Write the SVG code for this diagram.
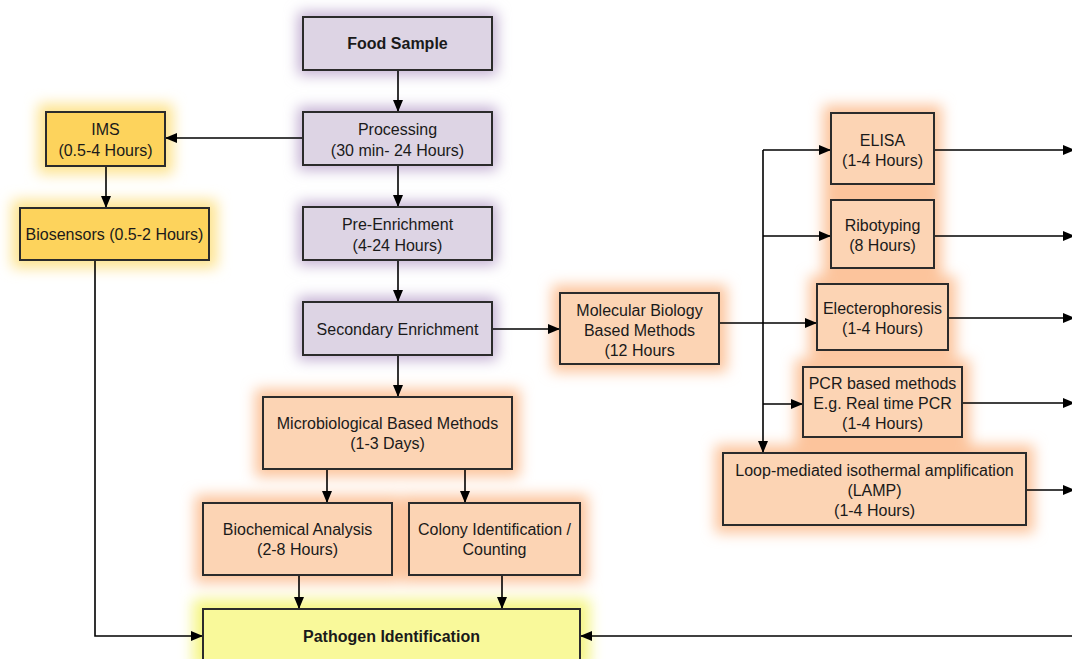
<svg xmlns="http://www.w3.org/2000/svg" width="1072" height="659" viewBox="0 0 1072 659">
<defs>
<filter id="glow" x="-30%" y="-40%" width="160%" height="180%"><feGaussianBlur stdDeviation="7"/></filter>
<marker id="ah" markerWidth="12" markerHeight="10" refX="11" refY="5" orient="auto" markerUnits="userSpaceOnUse"><path d="M0,0 L12,5 L0,10 Z" fill="#000"/></marker>
<style>
.box{stroke:#2b2b2b;stroke-width:2}
.lav{fill:#ddd4e4}
.pch{fill:#fcd4b4}
.gld{fill:#fdd35c}
.yel{fill:#f9f99a}
.gl-lav{fill:#c2afd2}
.gl-pch{fill:#fcc49c}
.gl-gld{fill:#fde38e}
.gl-yel{fill:#f5f585}
text{font-family:"Liberation Sans",Arial,sans-serif;font-size:16px;fill:#1a1a1a;text-anchor:middle}
.b{font-weight:bold}
.c{fill:none;stroke:#000;stroke-width:1.6}
</style>
</defs>
<rect width="1072" height="659" fill="#fff"/>
<g id="glows" filter="url(#glow)">
<rect class="gl-lav" x="298" y="12" width="199" height="63"/>
<rect class="gl-lav" x="298" y="107" width="199" height="63"/>
<rect class="gl-lav" x="298" y="202" width="199" height="63"/>
<rect class="gl-lav" x="298" y="297" width="199" height="63"/>
<rect class="gl-gld" x="38" y="104" width="135" height="70"/>
<rect class="gl-gld" x="12" y="200" width="205" height="68"/>
<rect class="gl-pch" x="552" y="285" width="175" height="87"/>
<rect class="gl-pch" x="823" y="105" width="119" height="87"/>
<rect class="gl-pch" x="823" y="192" width="119" height="84"/>
<rect class="gl-pch" x="809" y="276" width="147" height="82"/>
<rect class="gl-pch" x="795" y="359" width="175" height="86"/>
<rect class="gl-pch" x="715" y="445" width="319" height="88"/>
<rect class="gl-pch" x="255" y="389" width="265" height="88"/>
<rect class="gl-pch" x="195" y="495" width="205" height="88"/>
<rect class="gl-pch" x="401" y="495" width="187" height="88"/>
<rect class="gl-yel" x="193" y="599" width="397" height="70"/>
</g>
<g id="connectors">
<path class="c" d="M398,70 V111" marker-end="url(#ah)"/>
<path class="c" d="M303,138 H166" marker-end="url(#ah)"/>
<path class="c" d="M106,166 V207" marker-end="url(#ah)"/>
<path class="c" d="M398,165 V206" marker-end="url(#ah)"/>
<path class="c" d="M398,260 V301" marker-end="url(#ah)"/>
<path class="c" d="M398,355 V396" marker-end="url(#ah)"/>
<path class="c" d="M492,329 H559" marker-end="url(#ah)"/>
<path class="c" d="M719,323 H816" marker-end="url(#ah)"/>
<path class="c" d="M763,150 V452" marker-end="url(#ah)"/>
<path class="c" d="M763,150 H830" marker-end="url(#ah)"/>
<path class="c" d="M763,236 H830" marker-end="url(#ah)"/>
<path class="c" d="M763,404 H802" marker-end="url(#ah)"/>
<path class="c" d="M934,150 H1074" marker-end="url(#ah)"/>
<path class="c" d="M934,236 H1074" marker-end="url(#ah)"/>
<path class="c" d="M948,318 H1074" marker-end="url(#ah)"/>
<path class="c" d="M962,403 H1074" marker-end="url(#ah)"/>
<path class="c" d="M1026,490 H1074" marker-end="url(#ah)"/>
<path class="c" d="M1072,636 H581" marker-end="url(#ah)"/>
<path class="c" d="M95,260 V636 H202" marker-end="url(#ah)"/>
<path class="c" d="M327,469 V502" marker-end="url(#ah)"/>
<path class="c" d="M465,469 V502" marker-end="url(#ah)"/>
<path class="c" d="M299,575 V608" marker-end="url(#ah)"/>
<path class="c" d="M502,575 V608" marker-end="url(#ah)"/>
</g>
<g id="food"><rect class="box lav" x="303" y="17" width="189" height="53"/><text class="b" x="397.5" y="49">Food Sample</text></g>
<g id="processing"><rect class="box lav" x="303" y="112" width="189" height="53"/><text x="397.5" y="135">Processing</text><text x="397.5" y="156">(30 min- 24 Hours)</text></g>
<g id="preenrichment"><rect class="box lav" x="303" y="207" width="189" height="53"/><text x="397.5" y="230">Pre-Enrichment</text><text x="397.5" y="251">(4-24 Hours)</text></g>
<g id="secondary"><rect class="box lav" x="303" y="302" width="189" height="53"/><text x="397.5" y="335">Secondary Enrichment</text></g>
<g id="ims"><rect class="box gld" x="46" y="112" width="119" height="54"/><text x="105.5" y="135">IMS</text><text x="105.5" y="156">(0.5-4 Hours)</text></g>
<g id="biosensors"><rect class="box gld" x="20" y="208" width="189" height="52"/><text x="114.5" y="240">Biosensors (0.5-2 Hours)</text></g>
<g id="molecular"><rect class="box pch" x="560" y="293" width="159" height="71"/><text x="639.5" y="316">Molecular Biology</text><text x="639.5" y="336">Based Methods</text><text x="639.5" y="356">(12 Hours</text></g>
<g id="elisa"><rect class="box pch" x="831" y="113" width="103" height="71"/><text x="882.5" y="146">ELISA</text><text x="882.5" y="166">(1-4 Hours)</text></g>
<g id="ribotyping"><rect class="box pch" x="831" y="200" width="103" height="68"/><text x="882.5" y="231">Ribotyping</text><text x="882.5" y="251">(8 Hours)</text></g>
<g id="electerophoresis"><rect class="box pch" x="817" y="284" width="131" height="66"/><text x="882.5" y="314">Electerophoresis</text><text x="882.5" y="334">(1-4 Hours)</text></g>
<g id="pcr"><rect class="box pch" x="803" y="367" width="159" height="70"/><text x="882.5" y="389">PCR based methods</text><text x="882.5" y="409">E.g. Real time PCR</text><text x="882.5" y="429">(1-4 Hours)</text></g>
<g id="lamp"><rect class="box pch" x="723" y="453" width="303" height="72"/><text x="874.5" y="476">Loop-mediated isothermal amplification</text><text x="874.5" y="496">(LAMP)</text><text x="874.5" y="516">(1-4 Hours)</text></g>
<g id="microbiological"><rect class="box pch" x="263" y="397" width="249" height="72"/><text x="387.5" y="429">Microbiological Based Methods</text><text x="387.5" y="449">(1-3 Days)</text></g>
<g id="biochemical"><rect class="box pch" x="203" y="503" width="189" height="72"/><text x="297.5" y="535">Biochemical Analysis</text><text x="297.5" y="555">(2-8 Hours)</text></g>
<g id="colony"><rect class="box pch" x="409" y="503" width="171" height="72"/><text x="494.5" y="535">Colony Identification /</text><text x="494.5" y="555">Counting</text></g>
<g id="pathogen"><rect class="box yel" x="203" y="609" width="377" height="60"/><text class="b" x="391.5" y="642">Pathogen Identification</text></g>
</svg>
